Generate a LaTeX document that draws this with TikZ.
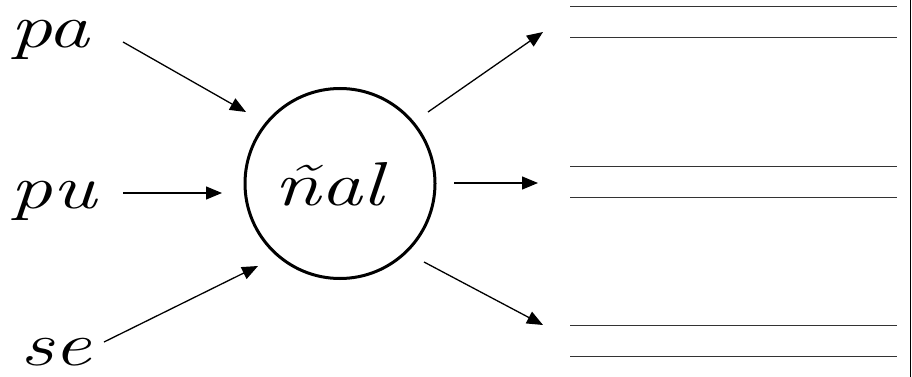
\documentclass[tikz,border=0pt]{standalone}
\usepackage{graphicx}
\usetikzlibrary{arrows.meta}
\newcommand{\cursivo}[1]{\scalebox{1.35}[1]{#1}}
\begin{document}
\begin{tikzpicture}[x=1pt,y=-1pt,
  word/.style={inner sep=0pt,anchor=base west,text height=28pt,text depth=6pt,font=\fontsize{62}{62}\selectfont\itshape},
  arr/.style={line width=1.3pt,-{Triangle[length=16pt,width=13pt]}},
  wline/.style={line width=1pt,black!80}]
\useasboundingbox (0,0) rectangle (912,377);
% words
\node[word] (pa) at (10,48) {\cursivo{pa}};
\node[word] (pu) at (10,208) {\cursivo{pu}};
\node[word] (se) at (20,365) {\cursivo{se}};
\node[circle,draw,line width=3pt,minimum size=190pt,inner sep=0pt] (c) at (340,183.5) {};
\node[word] (nal) at (274,205) {\cursivo{ñal}};
% arrow ends
\coordinate (pa-o) at (123,42);
\coordinate (pu-o) at (123,193);
\coordinate (se-o) at (104,342);
\coordinate (c-i1) at (246,112);
\coordinate (c-i2) at (222,193);
\coordinate (c-i3) at (258,266);
\coordinate (c-o1) at (428,112);
\coordinate (c-o2) at (454,183);
\coordinate (c-o3) at (424,262);
\coordinate (t1) at (543,32);
\coordinate (t2) at (538,183);
\coordinate (t3) at (543,325);
\draw[arr] (pa-o) -- (c-i1);
\draw[arr] (pu-o) -- (c-i2);
\draw[arr] (se-o) -- (c-i3);
\draw[arr] (c-o1) -- (t1);
\draw[arr] (c-o2) -- (t2);
\draw[arr] (c-o3) -- (t3);
% writing lines
\foreach \y in {7,38,166,197,325,356}{
  \draw[wline] (570,\y) -- (897,\y);
}
\draw[line width=1pt] (910.5,0) -- (910.5,377);
\end{tikzpicture}
\end{document}
